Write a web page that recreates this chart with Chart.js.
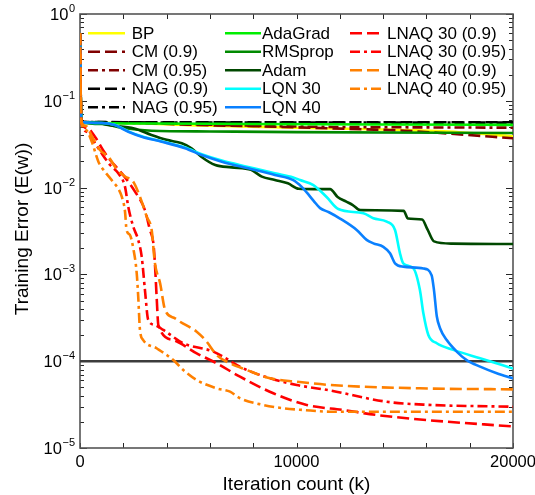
<!DOCTYPE html>
<html><head><meta charset="utf-8">
<script src="https://cdn.jsdelivr.net/npm/chart.js@4.4.0/dist/chart.umd.min.js"></script>
<style>html,body{margin:0;padding:0;background:#fff;}canvas{display:block;}</style>
</head><body>
<canvas id="c" width="535" height="495"></canvas>
<script>
const FONT = '"Liberation Sans", Arial, Helvetica, sans-serif';
const xTicks = [0, 10000, 20000];
const yDecades = [-5, -4, -3, -2, -1, 0];
const xMinorStep = 2000;
const thresholdData = [[0, 1e-4], [20000, 1e-4]];

const dataBP = [[0,0.6],[60,0.057],[2000,0.0555],[5000,0.0525],[10000,0.049],[15000,0.046],[17500,0.0435],[20000,0.039]];
const dataCM09 = [[0,0.6],[60,0.057],[2000,0.056],[5000,0.053],[8000,0.051],[10000,0.0495],[13000,0.047],[15000,0.0452],[17000,0.042],[20000,0.037]];
const dataCM095 = [[0,0.6],[60,0.057],[3000,0.0555],[6000,0.053],[10000,0.0505],[15000,0.0495],[20000,0.049]];
const dataNAG09 = [[0,0.6],[60,0.057],[5000,0.0566],[10000,0.0565],[20000,0.0565]];
const dataNAG095 = [[0,0.6],[60,0.057],[5000,0.0563],[10000,0.0562],[20000,0.056]];
const dataAdaGrad = [[0,0.6],[60,0.057],[3000,0.0548],[8000,0.054],[14000,0.0533],[20000,0.0528]];
const dataRMSprop = [[0,0.6],[60,0.057],[1000,0.054],[2000,0.0485],[3300,0.0452],[6000,0.0443],[10000,0.0436],[20000,0.0425]];
const dataAdam = [[0,0.6],[60,0.057],[800,0.056],[1300,0.0526],[2500,0.048],[3300,0.0404],[4000,0.0355],[4700,0.0324],[5150,0.0284],[5600,0.0227],[6250,0.0182],[7000,0.0171],[7900,0.016],[8400,0.0134],[9000,0.01225],[9600,0.0112],[10100,0.0097],[10800,0.0096],[11550,0.0096],[11900,0.0078],[12300,0.0069],[12600,0.0063],[12950,0.0055],[14950,0.0054],[15150,0.0044],[15800,0.0043],[16050,0.0033],[16350,0.0024],[17200,0.00226],[20000,0.00224]];
const dataLQN30 = [[0,0.6],[60,0.057],[1000,0.0556],[1600,0.053],[2230,0.0445],[2850,0.039],[3770,0.0342],[4850,0.0289],[5620,0.0243],[6550,0.0205],[7770,0.0173],[9000,0.0146],[9850,0.0131],[10160,0.01225],[10780,0.0107],[11390,0.0078],[11930,0.00567],[13090,0.00506],[13550,0.00443],[14170,0.00405],[14550,0.00325],[14780,0.00175],[14930,0.00134],[15400,0.00117],[15700,0.00066],[15860,0.000356],[16090,0.0002],[16480,0.000161],[17240,0.000135],[18480,0.000108],[20000,0.0000824]];
const dataLQN40 = [[0,0.6],[60,0.057],[1000,0.0555],[1600,0.0526],[2230,0.044],[2850,0.0386],[3770,0.0338],[4850,0.0284],[5620,0.0237],[6550,0.0199],[7770,0.0167],[9000,0.014],[9850,0.0122],[10240,0.0102],[10470,0.0088],[10800,0.007],[11090,0.0058],[11500,0.0052],[12010,0.0044],[12780,0.00325],[13240,0.0025],[13550,0.00228],[14010,0.00208],[14320,0.00175],[14550,0.00134],[14930,0.00123],[15860,0.00117],[16240,0.00098],[16350,0.00066],[16480,0.00033],[16630,0.00024],[16940,0.000175],[17400,0.000129],[17860,0.000103],[18480,0.0000865],[19250,0.0000726],[20000,0.0000635]];
const dataLNAQ30_09 = [[0,0.6],[60,0.057],[320,0.0486],[690,0.0386],[1060,0.0271],[1390,0.0208],[1930,0.0146],[2540,0.009],[3000,0.0055],[3230,0.00325],[3390,0.00228],[3460,0.00134],[3540,0.00055],[3620,0.000261],[4310,0.000175],[5390,0.000123],[6310,0.0000946],[7390,0.0000663],[8930,0.0000427],[10470,0.0000313],[12160,0.0000274],[13700,0.000024],[16000,0.000021],[20000,0.0000177]];
const dataLNAQ30_095 = [[0,0.6],[60,0.057],[370,0.0437],[690,0.0327],[1000,0.0248],[1390,0.0182],[1770,0.0146],[2080,0.0102],[2230,0.006],[2460,0.00355],[2690,0.00249],[2850,0.0016],[3000,0.00066],[3150,0.0003],[3460,0.000261],[3850,0.000229],[4770,0.000161],[6160,0.000129],[7540,0.0000828],[8780,0.0000635],[10010,0.0000532],[11550,0.000046],[14170,0.0000341],[16000,0.0000315],[20000,0.0000299]];
const dataLNAQ40_09 = [[0,0.6],[60,0.057],[280,0.051],[550,0.039],[920,0.0271],[1310,0.0227],[1660,0.0168],[2080,0.0134],[2460,0.0117],[2850,0.0069],[3080,0.00463],[3310,0.00325],[3460,0.00135],[3700,0.00079],[3930,0.00039],[4390,0.000312],[4620,0.000285],[5390,0.000219],[5850,0.000168],[6310,0.000118],[6930,0.0000946],[7700,0.0000792],[8780,0.0000635],[10010,0.0000581],[11550,0.0000532],[15700,0.0000487],[20000,0.0000474]];
const dataLNAQ40_095 = [[0,0.6],[60,0.057],[280,0.046],[550,0.0335],[850,0.0199],[1160,0.0151],[1460,0.0122],[1930,0.00785],[2080,0.00527],[2150,0.00325],[2310,0.00284],[2460,0.002],[2620,0.00103],[2690,0.00055],[2770,0.000229],[2920,0.000175],[3540,0.000141],[4310,0.000103],[4770,0.0000792],[5390,0.0000607],[6310,0.0000487],[6930,0.0000446],[7390,0.0000374],[8470,0.0000313],[9390,0.0000287],[10320,0.0000274],[11550,0.0000262],[20000,0.0000262]];

const seriesNames = ['BP','CM (0.9)','CM (0.95)','NAG (0.9)','NAG (0.95)','AdaGrad','RMSprop','Adam','LQN 30','LQN 40','LNAQ 30 (0.9)','LNAQ 30 (0.95)','LNAQ 40 (0.9)','LNAQ 40 (0.95)'];
const seriesData = [dataBP,dataCM09,dataCM095,dataNAG09,dataNAG095,dataAdaGrad,dataRMSprop,dataAdam,dataLQN30,dataLQN40,dataLNAQ30_09,dataLNAQ30_095,dataLNAQ40_09,dataLNAQ40_095];

const DASH = [12,5], DASHDOT = [10,4,3,4], SOLID = [];
const seriesStyle = [
  {color:'#FFFF00', dash:SOLID},
  {color:'#800000', dash:DASH},
  {color:'#800000', dash:DASHDOT},
  {color:'#000000', dash:DASH},
  {color:'#000000', dash:DASHDOT},
  {color:'#00EE00', dash:SOLID},
  {color:'#008A00', dash:SOLID},
  {color:'#004800', dash:SOLID},
  {color:'#00FFFF', dash:SOLID},
  {color:'#0A80FF', dash:SOLID},
  {color:'#FF0000', dash:DASH},
  {color:'#FF0000', dash:DASHDOT},
  {color:'#FF8000', dash:DASH},
  {color:'#FF8000', dash:DASHDOT}
];
const LW = 2.6;

const datasets = [{
  label:'threshold', data: thresholdData.map(([x,y])=>({x,y})),
  borderColor:'#3c3c3c', borderWidth:2.5, pointRadius:0, order:100
}];
seriesData.forEach((d,i)=>{
  datasets.push({
    label: seriesNames[i], data: d.map(([x,y])=>({x,y})),
    borderColor: seriesStyle[i].color, borderDash: seriesStyle[i].dash,
    borderWidth: LW, pointRadius:0, cubicInterpolationMode:'monotone',
    borderCapStyle:'butt', borderJoinStyle:'round', order: 50 - i
  });
});

// legend layout: column-major, 5 rows
const legendCols = [
  {lineX0:88, lineX1:125, textX:131.7},
  {lineX0:225, lineX1:261, textX:262},
  {lineX0:350, lineX1:382, textX:387}
];
const legendRowY0 = 33.3, legendRowDY = 18.5;

const decor = {
  id:'decor',
  beforeDatasetsDraw(chart){
    const {ctx, chartArea:a, scales:{x,y}} = chart;
    ctx.save();
    ctx.strokeStyle='#262626'; ctx.lineWidth=1;
    ctx.beginPath();
    for (let v=0; v<=20000; v+=xMinorStep){
      const px=Math.round(x.getPixelForValue(v))+0.5;
      ctx.moveTo(px,a.bottom); ctx.lineTo(px,a.bottom-5);
      ctx.moveTo(px,a.top); ctx.lineTo(px,a.top+5);
    }
    for (const d of yDecades){
      for (let m=1;m<=9;m++){
        if (d===0 && m>1) break;
        const py=Math.round(y.getPixelForValue(m*Math.pow(10,d)))+0.5;
        const len = m===1?7:4;
        ctx.moveTo(a.left,py); ctx.lineTo(a.left+len,py);
        ctx.moveTo(a.right,py); ctx.lineTo(a.right-len,py);
      }
    }
    ctx.stroke();
    ctx.strokeStyle='#555555'; ctx.lineWidth=1.6;
    ctx.strokeRect(a.left, a.top, a.right-a.left, a.bottom-a.top);
    ctx.restore();
  },
  afterDatasetsDraw(chart){
    const ctx = chart.ctx;
    ctx.save();
    ctx.font = '17px ' + FONT;
    ctx.textBaseline = 'middle';
    ctx.textAlign = 'left';
    seriesNames.forEach((name,i)=>{
      const col = legendCols[Math.floor(i/5)];
      const yy = legendRowY0 + (i%5)*legendRowDY;
      ctx.strokeStyle = seriesStyle[i].color;
      ctx.lineWidth = LW;
      ctx.setLineDash(seriesStyle[i].dash);
      ctx.lineCap = 'butt';
      ctx.beginPath(); ctx.moveTo(col.lineX0, yy); ctx.lineTo(col.lineX1, yy); ctx.stroke();
      ctx.setLineDash([]);
      ctx.fillStyle = '#000';
      ctx.fillText(name, col.textX, yy + 1);
    });
    ctx.restore();
  },
  afterDraw(chart){
    const {ctx, chartArea:a, scales:{y}} = chart;
    ctx.save();
    ctx.fillStyle = '#000';
    // y tick labels with superscript exponents
    for (const d of yDecades){
      const py = y.getPixelForValue(Math.pow(10,d));
      const ex = d===0 ? '0' : '\u2212' + String(-d);
      ctx.font = '11px ' + FONT;
      const ew = ctx.measureText(ex).width;
      ctx.textAlign = 'left'; ctx.textBaseline = 'alphabetic';
      ctx.fillText(ex, 75 - ew, py - 2);
      ctx.font = '16.5px ' + FONT;
      ctx.textAlign = 'right'; ctx.textBaseline = 'middle';
      ctx.fillText('10', 75 - ew - 0.5, py + 1.5);
    }
    // axis titles
    ctx.font = '19px ' + FONT;
    ctx.textAlign = 'center'; ctx.textBaseline = 'alphabetic';
    ctx.fillText('Iteration count (k)', (a.left + a.right)/2, 490);
    ctx.translate(28, 229);
    ctx.rotate(-Math.PI/2);
    ctx.fillText('Training Error (E(w))', 0, 0);
    ctx.restore();
  }
};

new Chart(document.getElementById('c').getContext('2d'), {
  type:'line',
  data:{datasets},
  options:{
    responsive:false, animation:false, devicePixelRatio:1,
    layout:{padding:{top:14, right:22, left:0, bottom:0}},
    plugins:{legend:{display:false}, tooltip:{enabled:false}},
    scales:{
      x:{
        type:'linear', min:0, max:20000,
        grid:{display:false, drawTicks:false}, border:{display:false},
        ticks:{color:'#000', font:{family:FONT, size:16.5}, padding:5, maxRotation:0, autoSkip:false, callback:v=>String(v)},
        afterBuildTicks: s=>{ s.ticks = xTicks.map(v=>({value:v})); },
        afterFit: s=>{ s.height = 47; s.paddingLeft = 0; s.paddingRight = 0; }
      },
      y:{
        type:'logarithmic', min:1e-5, max:1,
        grid:{display:false, drawTicks:false}, border:{display:false},
        ticks:{display:false},
        afterFit: s=>{ s.width = 80; }
      }
    }
  },
  plugins:[decor]
});
</script>
</body></html>
